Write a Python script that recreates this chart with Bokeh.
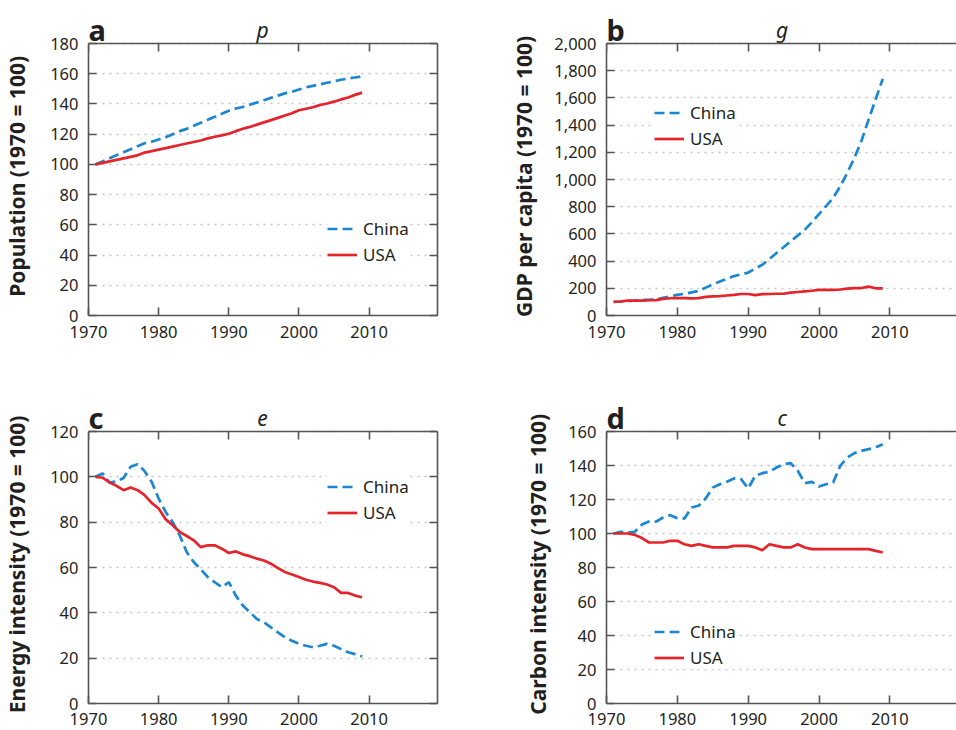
from bokeh.plotting import figure
from bokeh.models import Range1d, FixedTicker, LinearAxis, Label, Legend, LegendItem, NumeralTickFormatter
from bokeh.layouts import column, row
from bokeh.embed import file_html
from bokeh.resources import INLINE

# ---------------- data (index, 1970 = 100) ----------------
years = [1971, 1972, 1973, 1974, 1975, 1976, 1977, 1978, 1979, 1980,
         1981, 1982, 1983, 1984, 1985, 1986, 1987, 1988, 1989, 1990,
         1991, 1992, 1993, 1994, 1995, 1996, 1997, 1998, 1999, 2000,
         2001, 2002, 2003, 2004, 2005, 2006, 2007, 2008, 2009]

pop_china = [100, 102, 104, 106, 108, 110, 112, 114, 115, 116.5,
             118, 120, 122, 123.5, 125.5, 127.5, 129.5, 131.5, 133.5, 135.5,
             137, 138, 139.5, 141, 142.5, 144, 145.5, 147, 148, 149.5,
             151, 152, 153, 154, 155, 156, 156.8, 157.5, 158.2]
pop_usa = [100, 101, 102, 103, 104, 105, 106, 107.8, 108.8, 109.8,
           110.8, 111.8, 112.8, 113.8, 114.8, 115.8, 117.2, 118.3, 119.2, 120.3,
           122, 123.6, 124.8, 126.3, 127.8, 129.3, 130.8, 132.3, 133.8, 135.8,
           136.8, 137.8, 139.3, 140.3, 141.5, 143, 144.3, 146, 147.5]

gdp_china = [100, 103, 108, 110, 114, 115, 120, 130, 140, 152,
             160, 170, 180, 205, 228, 250, 270, 290, 302, 315,
             345, 373, 415, 459, 502, 545, 588, 631, 685, 745,
             805, 865, 950, 1050, 1160, 1285, 1440, 1590, 1740]
gdp_usa = [100, 103, 110, 110, 110, 112, 113, 122, 127, 128,
           128, 126, 128, 137, 140, 142, 147, 152, 158, 158,
           150, 157, 158, 160, 160, 168, 173, 178, 182, 189,
           189, 189, 191, 198, 201, 202, 212, 200, 199]

energy_china = [100, 101.5, 97.5, 98, 99.5, 104.4, 105.6, 102.5, 97.8, 90.4,
                84.5, 80, 74.2, 66.8, 62.4, 59.2, 55.8, 53.5, 51.3, 53.5,
                47.6, 43.2, 40.3, 37.3, 35.8, 33.6, 31.4, 29.2, 27.7, 26.3,
                25.5, 24.8, 25.5, 26.3, 25.5, 24, 22.6, 21.8, 20.8]
energy_usa = [100, 99.6, 97.5, 96, 94.1, 95.3, 94.1, 91.9, 88.5, 86,
              81.3, 78.6, 75.7, 73.9, 72, 69, 69.8, 69.8, 68.3, 66.4,
              67.1, 65.8, 65, 63.9, 63.1, 61.7, 59.7, 58, 56.9, 55.8,
              54.6, 53.8, 53.2, 52.5, 51.3, 48.8, 48.8, 47.6, 46.9]

carbon_china = [100, 101, 100.6, 101, 105.3, 107, 107, 109.4, 110.8, 109,
                108.8, 115.3, 116.3, 120.6, 127, 129, 130.4, 132.4, 132, 126.5,
                134, 135.5, 136.3, 138.8, 140.8, 141.4, 136.9, 129.6, 130.4, 127.6,
                129, 130, 139.8, 144.7, 147.3, 148.6, 149.6, 150.6, 152.5]
carbon_usa = [100, 100, 100, 99.2, 97.3, 94.7, 94.7, 94.7, 95.7, 95.7,
              93.7, 92.7, 93.7, 92.7, 91.8, 91.8, 91.8, 92.7, 92.7, 92.7,
              91.8, 90.2, 93.7, 92.7, 91.8, 91.8, 93.7, 91.8, 90.8, 90.8,
              90.8, 90.8, 90.8, 90.8, 90.8, 90.8, 90.8, 89.8, 88.8]

x_ticks = [1970, 1980, 1990, 2000, 2010]
series_names = ["China", "USA"]

# ---------------- styling ----------------
FONT = "Noto Sans"
TXT = "#231f20"
FRAME = "#555555"
BLUE = "#1b86d1"
RED = "#e5232b"
# the frame reaches 39 px above the data area (room for the panel letters);
# trailing no-break spaces keep the y label centred on the data area
LABEL_PAD = "\u00a0" * 6
EXT = 39


def style_axis(ax, ticks, labels=True, standoff=8):
    ax.ticker = FixedTicker(ticks=ticks)
    ax.axis_line_color = FRAME
    ax.axis_line_width = 1.6
    ax.major_tick_line_color = FRAME
    ax.major_tick_line_width = 1.6
    ax.major_tick_in = 8
    ax.major_tick_out = 0
    ax.minor_tick_line_color = None
    ax.major_label_text_font = FONT
    ax.major_label_text_color = TXT
    ax.major_label_text_font_size = "16.5px"
    ax.major_label_standoff = standoff
    if not labels:
        ax.major_label_text_color = None
        ax.major_label_text_font_size = "1px"
        ax.major_label_standoff = 0


def make_panel(letter, sym, ylabel, china, usa, ymax, ystep, width, height,
               bl, br, bt, bb, xstand, lstand, xend, legend_loc, right_axis, comma=False):
    frame_h = height - bt - bb
    data_h = frame_h - EXT
    p = figure(width=width, height=height,
               x_range=Range1d(1970, xend),
               y_range=Range1d(0, ymax * frame_h / data_h),
               output_backend="svg", toolbar_location=None,
               min_border_left=bl, min_border_right=br,
               min_border_top=bt, min_border_bottom=bb)
    p.outline_line_color = None
    p.background_fill_color = "white"
    p.border_fill_color = "white"
    yticks = list(range(0, ymax + 1, ystep))

    style_axis(p.xaxis[0], x_ticks, True, xstand)
    style_axis(p.yaxis[0], yticks, True, 10)
    p.yaxis[0].bounds = (0, ymax)
    if comma:
        p.yaxis[0].formatter = NumeralTickFormatter(format="0,0")
    p.yaxis[0].axis_label = ylabel + LABEL_PAD
    p.yaxis[0].axis_label_text_font = FONT
    p.yaxis[0].axis_label_text_font_style = "bold"
    p.yaxis[0].axis_label_text_font_size = "21px"
    p.yaxis[0].axis_label_text_color = TXT
    p.yaxis[0].axis_label_standoff = lstand

    top = LinearAxis(fixed_location=ymax)
    style_axis(top, x_ticks, False)
    p.add_layout(top, "above")
    if right_axis:
        rt = LinearAxis()
        style_axis(rt, yticks, False)
        rt.bounds = (0, ymax)
        p.add_layout(rt, "right")

    p.xgrid.visible = False
    p.ygrid.ticker = FixedTicker(ticks=yticks)
    p.ygrid.grid_line_color = "#c4c4c4"
    p.ygrid.grid_line_dash = "2 5"
    p.ygrid.grid_line_width = 1.3

    r1 = p.line(years, china, line_color=BLUE, line_width=2.7, line_dash="10 5")
    r2 = p.line(years, usa, line_color=RED, line_width=2.7)

    leg = Legend(items=[LegendItem(label=series_names[0], renderers=[r1]),
                        LegendItem(label=series_names[1], renderers=[r2])],
                 location=legend_loc, padding=10, margin=0, spacing=3,
                 glyph_width=30, glyph_height=23, label_height=23,
                 label_standoff=6, label_text_font=FONT,
                 label_text_font_size="17px", label_text_color=TXT,
                 border_line_color=None, background_fill_color="white",
                 background_fill_alpha=1.0)
    p.add_layout(leg)

    p.add_layout(Label(x=1970, y=ymax, y_offset=14, text=letter,
                       text_font=FONT, text_font_style="bold",
                       text_font_size="29px", text_color=TXT,
                       text_align="left", text_baseline="alphabetic"))
    p.add_layout(Label(x=1994.8, y=ymax, y_offset=13.5, text=sym,
                       text_font=FONT, text_font_style="italic",
                       text_font_size="21px", text_color=TXT,
                       text_align="center", text_baseline="alphabetic"))
    return p


pa = make_panel("a", "p", "Population (1970 = 100)", pop_china, pop_usa, 180, 20,
                478, 365, 83, 41, 4, 50, 10, 16, 2019.75, (239, 49.5), True)
pb = make_panel("b", "g", "GDP per capita (1970 = 100)", gdp_china, gdp_usa, 2000, 200,
                478, 365, 128, 0, 4, 50, 10, 13, 2019.41, (48, 165.5), False, comma=True)
pc = make_panel("c", "e", "Energy intensity (1970 = 100)", energy_china, energy_usa, 120, 20,
                478, 365, 83, 41, 27, 27, 9, 16, 2019.75, (239, 179.5), True)
pd = make_panel("d", "c", "Carbon intensity (1970 = 100)", carbon_china, carbon_usa, 160, 20,
                478, 365, 128, 0, 27, 27, 9, 13, 2019.41, (48, 34.5), False)

layout = column(row(pa, pb), row(pc, pd))
open("out.html", "w").write(file_html(layout, INLINE))
